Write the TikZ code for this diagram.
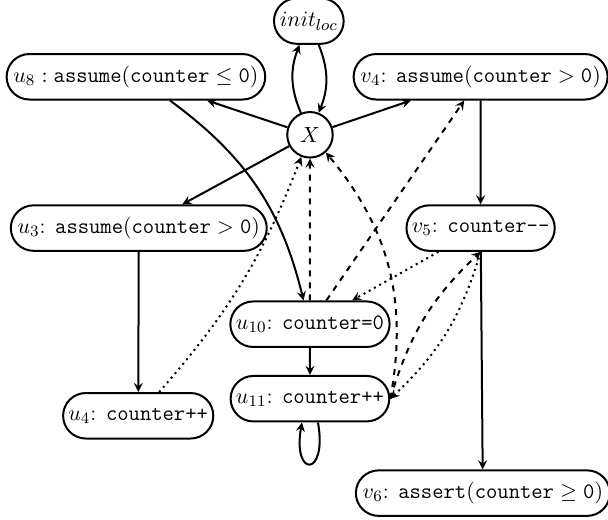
\documentclass[tikz,border=0pt]{standalone}
\usetikzlibrary{shapes.misc,arrows}
\begin{document}
\begin{tikzpicture}[>=stealth, line width=1pt,
    ort/.style={draw, rounded rectangle, minimum height=0.8cm, inner xsep=2pt,
      font=\fontsize{11}{13}\selectfont},
    mitte/.style={draw, circle, minimum size=0.8cm, inner sep=0pt,
      font=\fontsize{11}{13}\selectfont}]
  \useasboundingbox (0,0) rectangle (10.69,9.14);

  % Knoten
  \node[ort] (init) at (5.43, 8.77) {$init_{loc}$};
  \node[mitte] (X) at (5.45, 6.77) {$X$};
  \node[ort] (u8) at (2.39, 7.79) {$u_8 : \texttt{assume}(\texttt{counter} \leq \texttt{0})$};
  \node[ort] (v4) at (8.45, 7.79) {$v_4$: \texttt{assume}$(\texttt{counter} > \texttt{0})$};
  \node[ort] (u3) at (2.44, 5.13) {$u_3$: \texttt{assume}$(\texttt{counter} > \texttt{0})$};
  \node[ort] (v5) at (8.45, 5.13) {$v_5$: \texttt{counter--}};
  \node[ort] (u10) at (5.45, 3.44) {$u_{10}$: \texttt{counter=0}};
  \node[ort] (u11) at (5.45, 2.13) {$u_{11}$: \texttt{counter++}};
  \node[ort] (u4) at (2.43, 1.83) {$u_4$: \texttt{counter++}};
  \node[ort] (v6) at (8.49, 0.47) {$v_6$: \texttt{assert}$(\texttt{counter} \geq \texttt{0})$};

  % Kontrollfluss (durchgezogen)
  \draw[->] (X) to[bend left=22] (init);
  \draw[->] (init) to[bend left=22] (X);
  \draw[->] (X) -- (u8);
  \draw[->] (X) -- (v4);
  \draw[->] (X) -- (u3);
  \draw[->] (u8) to[bend left=20] (u10);
  \draw[->] (u3) -- (u4);
  \draw[->] (u10) -- (u11);
  \draw[->] (v4) -- (v5);
  \draw[->] (v5) -- (v6);
  \draw[->] ([xshift=4pt]u11.south) to[out=-80, in=-100, looseness=9] ([xshift=-4pt]u11.south);

  % gestrichelte Kanten
  \draw[->, dashed] (u10) -- (X);
  \draw[->, dashed] (u10) -- (v4);
  \draw[->, dashed] (u11.east) to[bend right=25] (X);
  \draw[->, dashed] (u11.east) to[bend left=15] (v5.south);

  % gepunktete Kanten
  \draw[->, dotted] (v5.south) to[bend left=15] (u11.east);
  \draw[->, dotted] (v5) -- (u10);
  \draw[->, dotted] (u4) to[bend right=10] (X);
\end{tikzpicture}
\end{document}
